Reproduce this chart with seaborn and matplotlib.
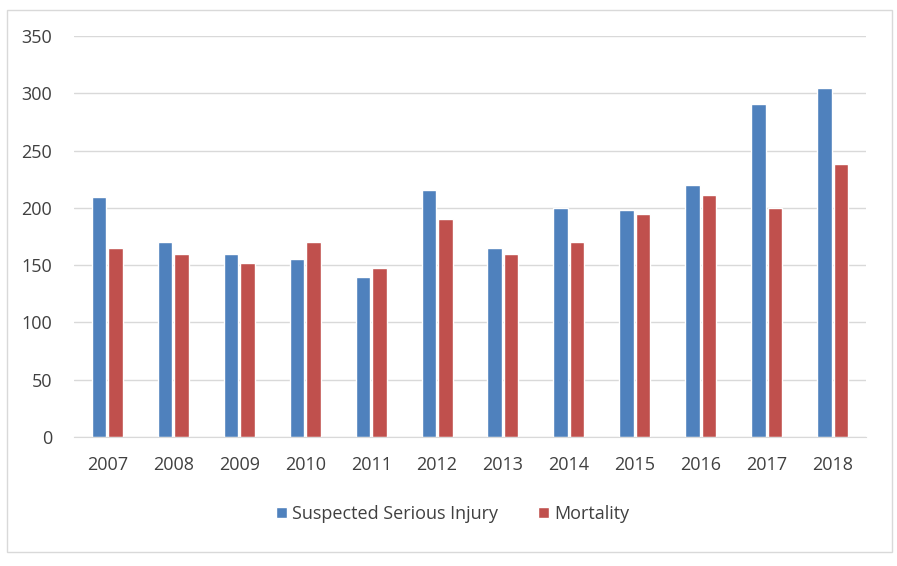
import numpy as np
import pandas as pd
import matplotlib
matplotlib.use('Agg')
import matplotlib.pyplot as plt
from matplotlib.patches import Rectangle
import seaborn as sns

# Data
years = ['2007', '2008', '2009', '2010', '2011', '2012',
         '2013', '2014', '2015', '2016', '2017', '2018']
injury = [210, 170, 160, 155, 140, 216, 165, 200, 198, 220, 291, 305]
mortality = [165, 160, 152, 170, 148, 190, 160, 170, 195, 211, 200, 238]
series = ['Suspected Serious Injury', 'Mortality']
colors = ['#4F81BD', '#C0504D']

df = pd.DataFrame({
    'year': years * 2,
    'value': injury + mortality,
    'series': [series[0]] * len(years) + [series[1]] * len(years),
})

sns.set_style('white')
plt.rcParams['font.family'] = ['Open Sans', 'DejaVu Sans']

fig = plt.figure(figsize=(8.97, 5.66), dpi=100)
ax = fig.add_axes([0.083, 0.228, 0.882, 0.708])

sns.barplot(data=df, x='year', y='value', hue='series', palette=colors,
            width=0.5, gap=0.12, saturation=1, ax=ax, legend=True)

ax.set_ylim(0, 350)
ax.set_yticks(np.arange(0, 351, 50))
ax.set_xlim(-0.5, len(years) - 0.5)
ax.yaxis.grid(True, color='#D9D9D9', linewidth=1)
ax.set_axisbelow(True)
ax.set_xlabel('')
ax.set_ylabel('')
for s in ['top', 'right', 'left']:
    ax.spines[s].set_visible(False)
ax.spines['bottom'].set_color('#D9D9D9')
ax.tick_params(axis='both', length=0, labelsize=13, colors='#404040')
ax.tick_params(axis='x', pad=14)
ax.tick_params(axis='y', pad=16)

ax.legend(loc='center', bbox_to_anchor=(0.478, -0.192), ncol=2, frameon=False,
          fontsize=13, handlelength=0.6, handleheight=0.6, handletextpad=0.3,
          columnspacing=2.2, labelcolor='#404040')

# outer chart border
fig.patches.append(Rectangle((7 / 897, 1 - 552 / 566), 885 / 897, 542 / 566,
                             transform=fig.transFigure, fill=False,
                             edgecolor='#D9D9D9', linewidth=1))

fig.savefig('out.png', dpi=100)
